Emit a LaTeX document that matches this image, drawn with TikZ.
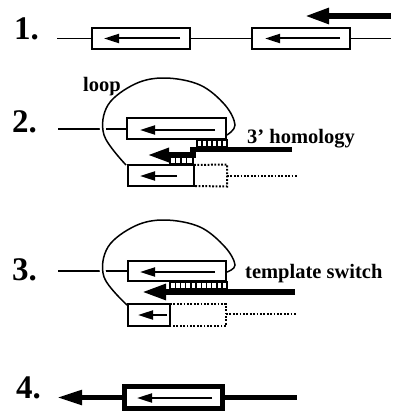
\documentclass[tikz,border=0pt]{standalone}
\usepackage{fontspec}
\setmainfont{Liberation Serif}
\usetikzlibrary{arrows.meta}
\begin{document}
\begin{tikzpicture}[x=1pt,y=-1pt,
  dnabox/.style={draw, line width=2pt, inner sep=0pt, outer sep=0pt},
  thinline/.style={line width=1.5pt},
  innerarrow/.style={line width=2pt, -{Triangle[length=15pt,width=9pt]}},
  thickarrow/.style={line width=5.5pt, -{Triangle[length=24pt,width=15pt]}},
  thickline/.style={line width=5pt},
  dotline/.style={line width=2pt, dash pattern=on 1.8pt off 1.6pt},
  ladderline/.style={line width=1.4pt},
  loopline/.style={line width=1.5pt, preaction={draw=white, line width=6pt}},
  numlabel/.style={inner sep=0pt, anchor=base west, font=\fontsize{33}{36}\selectfont\bfseries},
  txtlabel/.style={inner sep=0pt, anchor=base west, font=\fontsize{20.5}{24}\selectfont\bfseries}]
\useasboundingbox (0,0) rectangle (400,420);

% ---------- row 1 ----------
\node[numlabel] (n1) at (14,40) {1.};
\node[dnabox, minimum width=98pt, minimum height=21pt] (b1) at (141,38.5) {};
\node[dnabox, minimum width=98pt, minimum height=21pt] (b2) at (301,38.5) {};
\coordinate (l1s) at (57,38.5);
\coordinate (l1e) at (391,38.5);
\draw[thinline] (l1s) -- (b1.west);
\draw[thinline] (b1.east) -- (b2.west);
\draw[thinline] (b2.east) -- (l1e);
\coordinate (a1s) at (180,38.5); \coordinate (a1e) at (104,38.5);
\coordinate (a2s) at (340,38.5); \coordinate (a2e) at (265,38.5);
\draw[innerarrow] (a1s) -- (a1e);
\draw[innerarrow] (a2s) -- (a2e);
\coordinate (t1s) at (391,16); \coordinate (t1e) at (305,16);
\draw[thickarrow] (t1s) -- (t1e);

% ---------- row 2 ----------
\node[numlabel] (n2) at (12,132) {2.};
\node[txtlabel] (loop) at (83,91) {loop};
\node[txtlabel] (hom) at (247,143) {3’ homology};
\coordinate (l2s) at (58,129);
\draw[thinline] (l2s) -- (176.5,129);
\draw[loopline] plot[smooth, tension=0.6] coordinates {(126,165) (104,135) (108,105) (135,84) (165,78) (200,85) (225,105) (235,125) (227,135)};
\node[dnabox, fill=white, minimum width=99pt, minimum height=21pt] (A2) at (176.5,128.5) {};
\node[dnabox, minimum width=66pt, minimum height=21pt] (B2) at (161,175.5) {};
\coordinate (i2as) at (215,130); \coordinate (i2ae) at (140,130);
\coordinate (i2bs) at (177,176); \coordinate (i2be) at (140,176);
\draw[innerarrow] (i2as) -- (i2ae);
\draw[innerarrow] (i2bs) -- (i2be);
% ladders
\draw[ladderline] (197,140) rectangle (227,147);
\foreach \x in {202,207,...,222} \draw[ladderline] (\x,140) -- (\x,147);
\draw[ladderline] (170,157.5) rectangle (193,163.5);
\foreach \x in {175.5,181,...,188} \draw[ladderline] (\x,157.5) -- (\x,163.5);
% invading strand
\coordinate (s2a) at (292,149.5);
\coordinate (s2b) at (193,149.5);
\coordinate (s2c) at (193,155);
\coordinate (s2d) at (147,155);
\draw[line width=5.5pt, line join=miter, -{Triangle[length=22pt,width=13pt]}] (s2a) -- (s2b) -- (s2c) -- (s2d);
% dotted continuation
\coordinate (d2ne) at (227,164.5); \coordinate (d2se) at (227,186.5);
\coordinate (d2m) at (227,176); \coordinate (d2end) at (297,176);
\draw[dotline] (B2.north east) -- (d2ne) -- (d2se) -- (B2.south east);
\draw[dotline] (d2m) -- (d2end);

% ---------- row 3 ----------
\node[numlabel] (n3) at (12,280) {3.};
\node[txtlabel] (ts) at (245,278) {template switch};
\coordinate (l3s) at (58,271);
\draw[thinline] (l3s) -- (177,271);
\draw[loopline] plot[smooth, tension=0.6] coordinates {(127,305) (104,277) (108,247) (135,226) (165,220) (200,227) (225,247) (235,265) (227,272)};
\node[dnabox, fill=white, minimum width=98pt, minimum height=20pt] (A3) at (177,271) {};
\node[dnabox, minimum width=42pt, minimum height=22pt] (B3) at (149,315) {};
\coordinate (i3as) at (215,272); \coordinate (i3ae) at (140,272);
\coordinate (i3bs) at (167,315); \coordinate (i3be) at (138,315);
\draw[innerarrow] (i3as) -- (i3ae);
\draw[innerarrow] (i3bs) -- (i3be);
\draw[ladderline] (170,282) rectangle (227,289);
\foreach \x in {175.2,180.4,...,222} \draw[ladderline] (\x,282) -- (\x,289);
\coordinate (t3s) at (295,292); \coordinate (t3e) at (142,292);
\draw[thickarrow] (t3s) -- (t3e);
\coordinate (d3ne) at (226,304); \coordinate (d3se) at (226,326);
\coordinate (d3m) at (226,314); \coordinate (d3end) at (297,314);
\draw[dotline] (B3.north east) -- (d3ne) -- (d3se) -- (B3.south east);
\draw[dotline] (d3m) -- (d3end);

% ---------- row 4 ----------
\node[numlabel] (n4) at (16,398) {4.};
\node[draw, line width=5pt, inner sep=0pt, minimum width=98pt, minimum height=22pt] (b4) at (173.5,397.5) {};
\coordinate (t4e) at (57,397.5); \coordinate (r4) at (297,397.5);
\draw[thickline, -{Triangle[length=25pt,width=14pt]}] (b4.west) -- (t4e);
\draw[thickline] (b4.east) -- (r4);
\coordinate (i4s) at (212,398); \coordinate (i4e) at (137,398);
\draw[innerarrow] (i4s) -- (i4e);
\end{tikzpicture}
\end{document}
